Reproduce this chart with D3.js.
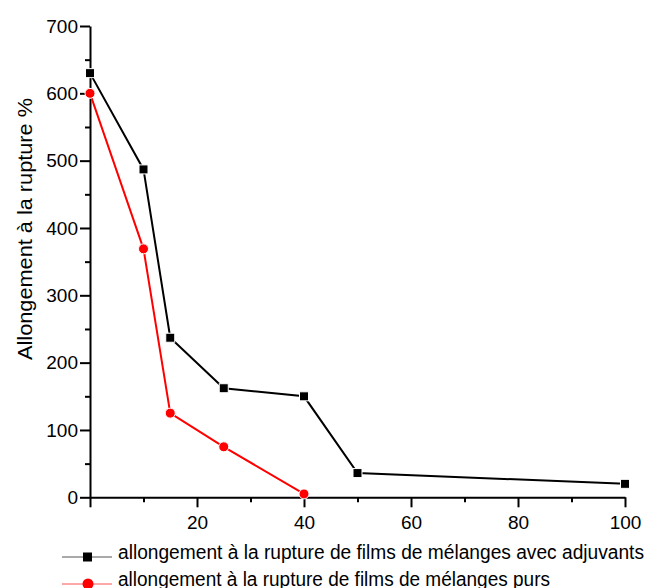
<!DOCTYPE html>
<html>
<head>
<meta charset="utf-8">
<script src="https://cdnjs.cloudflare.com/ajax/libs/d3/7.8.5/d3.min.js"></script>
<style>
  html, body { margin: 0; padding: 0; background: #fff; }
  svg { display: block; font-family: "Liberation Sans", Arial, sans-serif; }
</style>
</head>
<body>
<div id="chart"></div>
<script>
// ---- data ----
const adjuvantX = [0, 10, 15, 25, 40, 50, 100];
const adjuvantY = [630, 487, 237, 162, 150, 36, 20];
const pursX = [0, 10, 15, 25, 40];
const pursY = [600, 369, 125, 75, 5];

const xMajorTicks = [0, 20, 40, 60, 80, 100];
const xMinorTicks = [10, 30, 50, 70, 90];
const yMajorTicks = [0, 100, 200, 300, 400, 500, 600, 700];
const yMinorTicks = [50, 150, 250, 350, 450, 550, 650];

const yTitle = 'Allongement à la rupture %';
const seriesNames = [
    'allongement à la rupture de films de mélanges avec adjuvants',
    'allongement à la rupture de films de mélanges purs'
];

/* ------------------------------ setup ------------------------------ */
const width = 650, height = 588;
const svg = d3.select('#chart').append('svg')
    .attr('width', width)
    .attr('height', height);

const x = d3.scaleLinear().domain([0, 100]).range([90, 625]);
const y = d3.scaleLinear().domain([0, 700]).range([497.3, 26]);

/* ------------------------------ axes ------------------------------- */
const xAxisMinor = svg.append('g')
    .attr('transform', `translate(0,${y(0)})`)
    .call(d3.axisBottom(x).tickValues(xMinorTicks).tickSize(5).tickSizeOuter(0).tickFormat(''));
const xAxis = svg.append('g')
    .attr('transform', `translate(0,${y(0)})`)
    .call(d3.axisBottom(x).tickValues(xMajorTicks).tickSize(10).tickSizeOuter(0).tickPadding(8)
        .tickFormat(d => d === 0 ? '' : d));

const yAxisMinor = svg.append('g')
    .attr('transform', `translate(${x(0)},0)`)
    .call(d3.axisLeft(y).tickValues(yMinorTicks).tickSize(5).tickSizeOuter(0).tickFormat(''));
const yAxis = svg.append('g')
    .attr('transform', `translate(${x(0)},0)`)
    .call(d3.axisLeft(y).tickValues(yMajorTicks).tickSize(10).tickSizeOuter(0).tickPadding(2));

[xAxis, xAxisMinor, yAxis, yAxisMinor].forEach(g => {
    g.selectAll('path, line').attr('stroke', '#000').attr('stroke-width', 2);
    g.selectAll('text').attr('fill', '#000')
        .style('font-family', '"Liberation Sans", Arial, sans-serif')
        .style('font-size', '19px');
});
xAxisMinor.select('.domain').remove();
yAxisMinor.select('.domain').remove();

// Y axis title
svg.append('text')
    .attr('transform', `translate(32,${(98 + 360) / 2}) rotate(-90)`)
    .attr('text-anchor', 'middle')
    .attr('textLength', 262)
    .attr('lengthAdjust', 'spacingAndGlyphs')
    .style('font-size', '21px')
    .text(yTitle);

/* ------------------------------ series ----------------------------- */
const line = d3.line().x(d => x(d[0])).y(d => y(d[1]));
const adjuvantData = adjuvantX.map((v, i) => [v, adjuvantY[i]]);
const pursData = pursX.map((v, i) => [v, pursY[i]]);

svg.append('path').datum(adjuvantData)
    .attr('d', line).attr('fill', 'none')
    .attr('stroke', '#000').attr('stroke-width', 2);
svg.append('path').datum(pursData)
    .attr('d', line).attr('fill', 'none')
    .attr('stroke', '#ff0000').attr('stroke-width', 2);

const sq = 9;
svg.selectAll('rect.adj').data(adjuvantData).enter()
    .append('rect').attr('class', 'adj')
    .attr('x', d => x(d[0]) - sq / 2)
    .attr('y', d => y(d[1]) - sq / 2)
    .attr('width', sq).attr('height', sq)
    .attr('fill', '#000').attr('stroke', '#fff').attr('stroke-width', 1);

svg.selectAll('circle.pur').data(pursData).enter()
    .append('circle').attr('class', 'pur')
    .attr('cx', d => x(d[0]))
    .attr('cy', d => y(d[1]))
    .attr('r', 5)
    .attr('fill', '#ff0000').attr('stroke', '#fff').attr('stroke-width', 1);

/* ------------------------------ legend ----------------------------- */
const legendRows = [
    { name: seriesNames[0], colour: '#000', lineColour: '#555', y: 557, len: 526, marker: 'square' },
    { name: seriesNames[1], colour: '#ff0000', lineColour: '#ff5050', y: 584, len: 432, marker: 'circle' }
];
const legend = svg.append('g');
legendRows.forEach(r => {
    legend.append('line')
        .attr('x1', 62).attr('x2', 112)
        .attr('y1', r.y).attr('y2', r.y)
        .attr('stroke', r.lineColour).attr('stroke-width', 1);
    if (r.marker === 'square') {
        legend.append('rect')
            .attr('x', 87.5 - 4.5).attr('y', r.y - 4.5)
            .attr('width', 9).attr('height', 9)
            .attr('fill', r.colour);
    } else {
        legend.append('circle')
            .attr('cx', 88).attr('cy', r.y).attr('r', 5.5)
            .attr('fill', r.colour);
    }
    legend.append('text')
        .attr('x', 118).attr('y', r.y + 2)
        .attr('textLength', r.len)
        .attr('lengthAdjust', 'spacingAndGlyphs')
        .style('font-size', '20px')
        .text(r.name);
});
</script>
</body>
</html>
